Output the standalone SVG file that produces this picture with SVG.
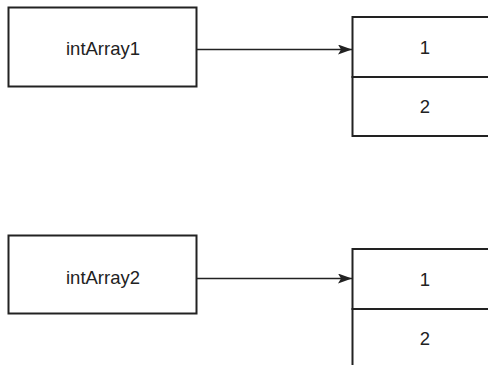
<svg xmlns="http://www.w3.org/2000/svg" width="488" height="365" viewBox="0 0 488 365">
  <style>
    .box { fill: #ffffff; stroke: #222222; stroke-width: 2; }
    .lbl { font-family: "Liberation Sans", Arial, sans-serif; font-size: 18.5px; fill: #222222; text-anchor: middle; dominant-baseline: central; }
    .link { stroke: #222222; stroke-width: 1.5; fill: none; }
  </style>
  <defs>
    <marker id="arrow" viewBox="0 0 14 10" refX="14" refY="5" markerWidth="14" markerHeight="10" markerUnits="userSpaceOnUse" orient="auto">
      <path d="M0,0 L14,5 L0,10 L3,5 Z" fill="#222222"/>
    </marker>
  </defs>
  <rect width="488" height="365" fill="#ffffff"/>

  <!-- variable references -->
  <g id="intArray1">
    <rect class="box" x="8.5" y="7.5" width="188" height="79"/>
    <text class="lbl" x="103" y="48">intArray1</text>
  </g>
  <g id="intArray2">
    <rect class="box" x="8.5" y="235.5" width="188" height="78"/>
    <text class="lbl" x="103" y="277">intArray2</text>
  </g>

  <!-- array objects -->
  <g id="array1">
    <rect class="box" x="352.5" y="17" width="146" height="60"/>
    <rect class="box" x="352.5" y="77" width="146" height="59"/>
    <text class="lbl" x="425" y="47">1</text>
    <text class="lbl" x="425" y="106">2</text>
  </g>
  <g id="array2">
    <rect class="box" x="352.5" y="249" width="146" height="60"/>
    <rect class="box" x="352.5" y="309" width="146" height="70"/>
    <text class="lbl" x="425" y="279">1</text>
    <text class="lbl" x="425" y="338">2</text>
  </g>

  <!-- connectors -->
  <g id="connectors">
    <line class="link" x1="197" y1="49.5" x2="352" y2="49.5" marker-end="url(#arrow)"/>
    <line class="link" x1="197" y1="278.5" x2="352" y2="278.5" marker-end="url(#arrow)"/>
  </g>
</svg>
